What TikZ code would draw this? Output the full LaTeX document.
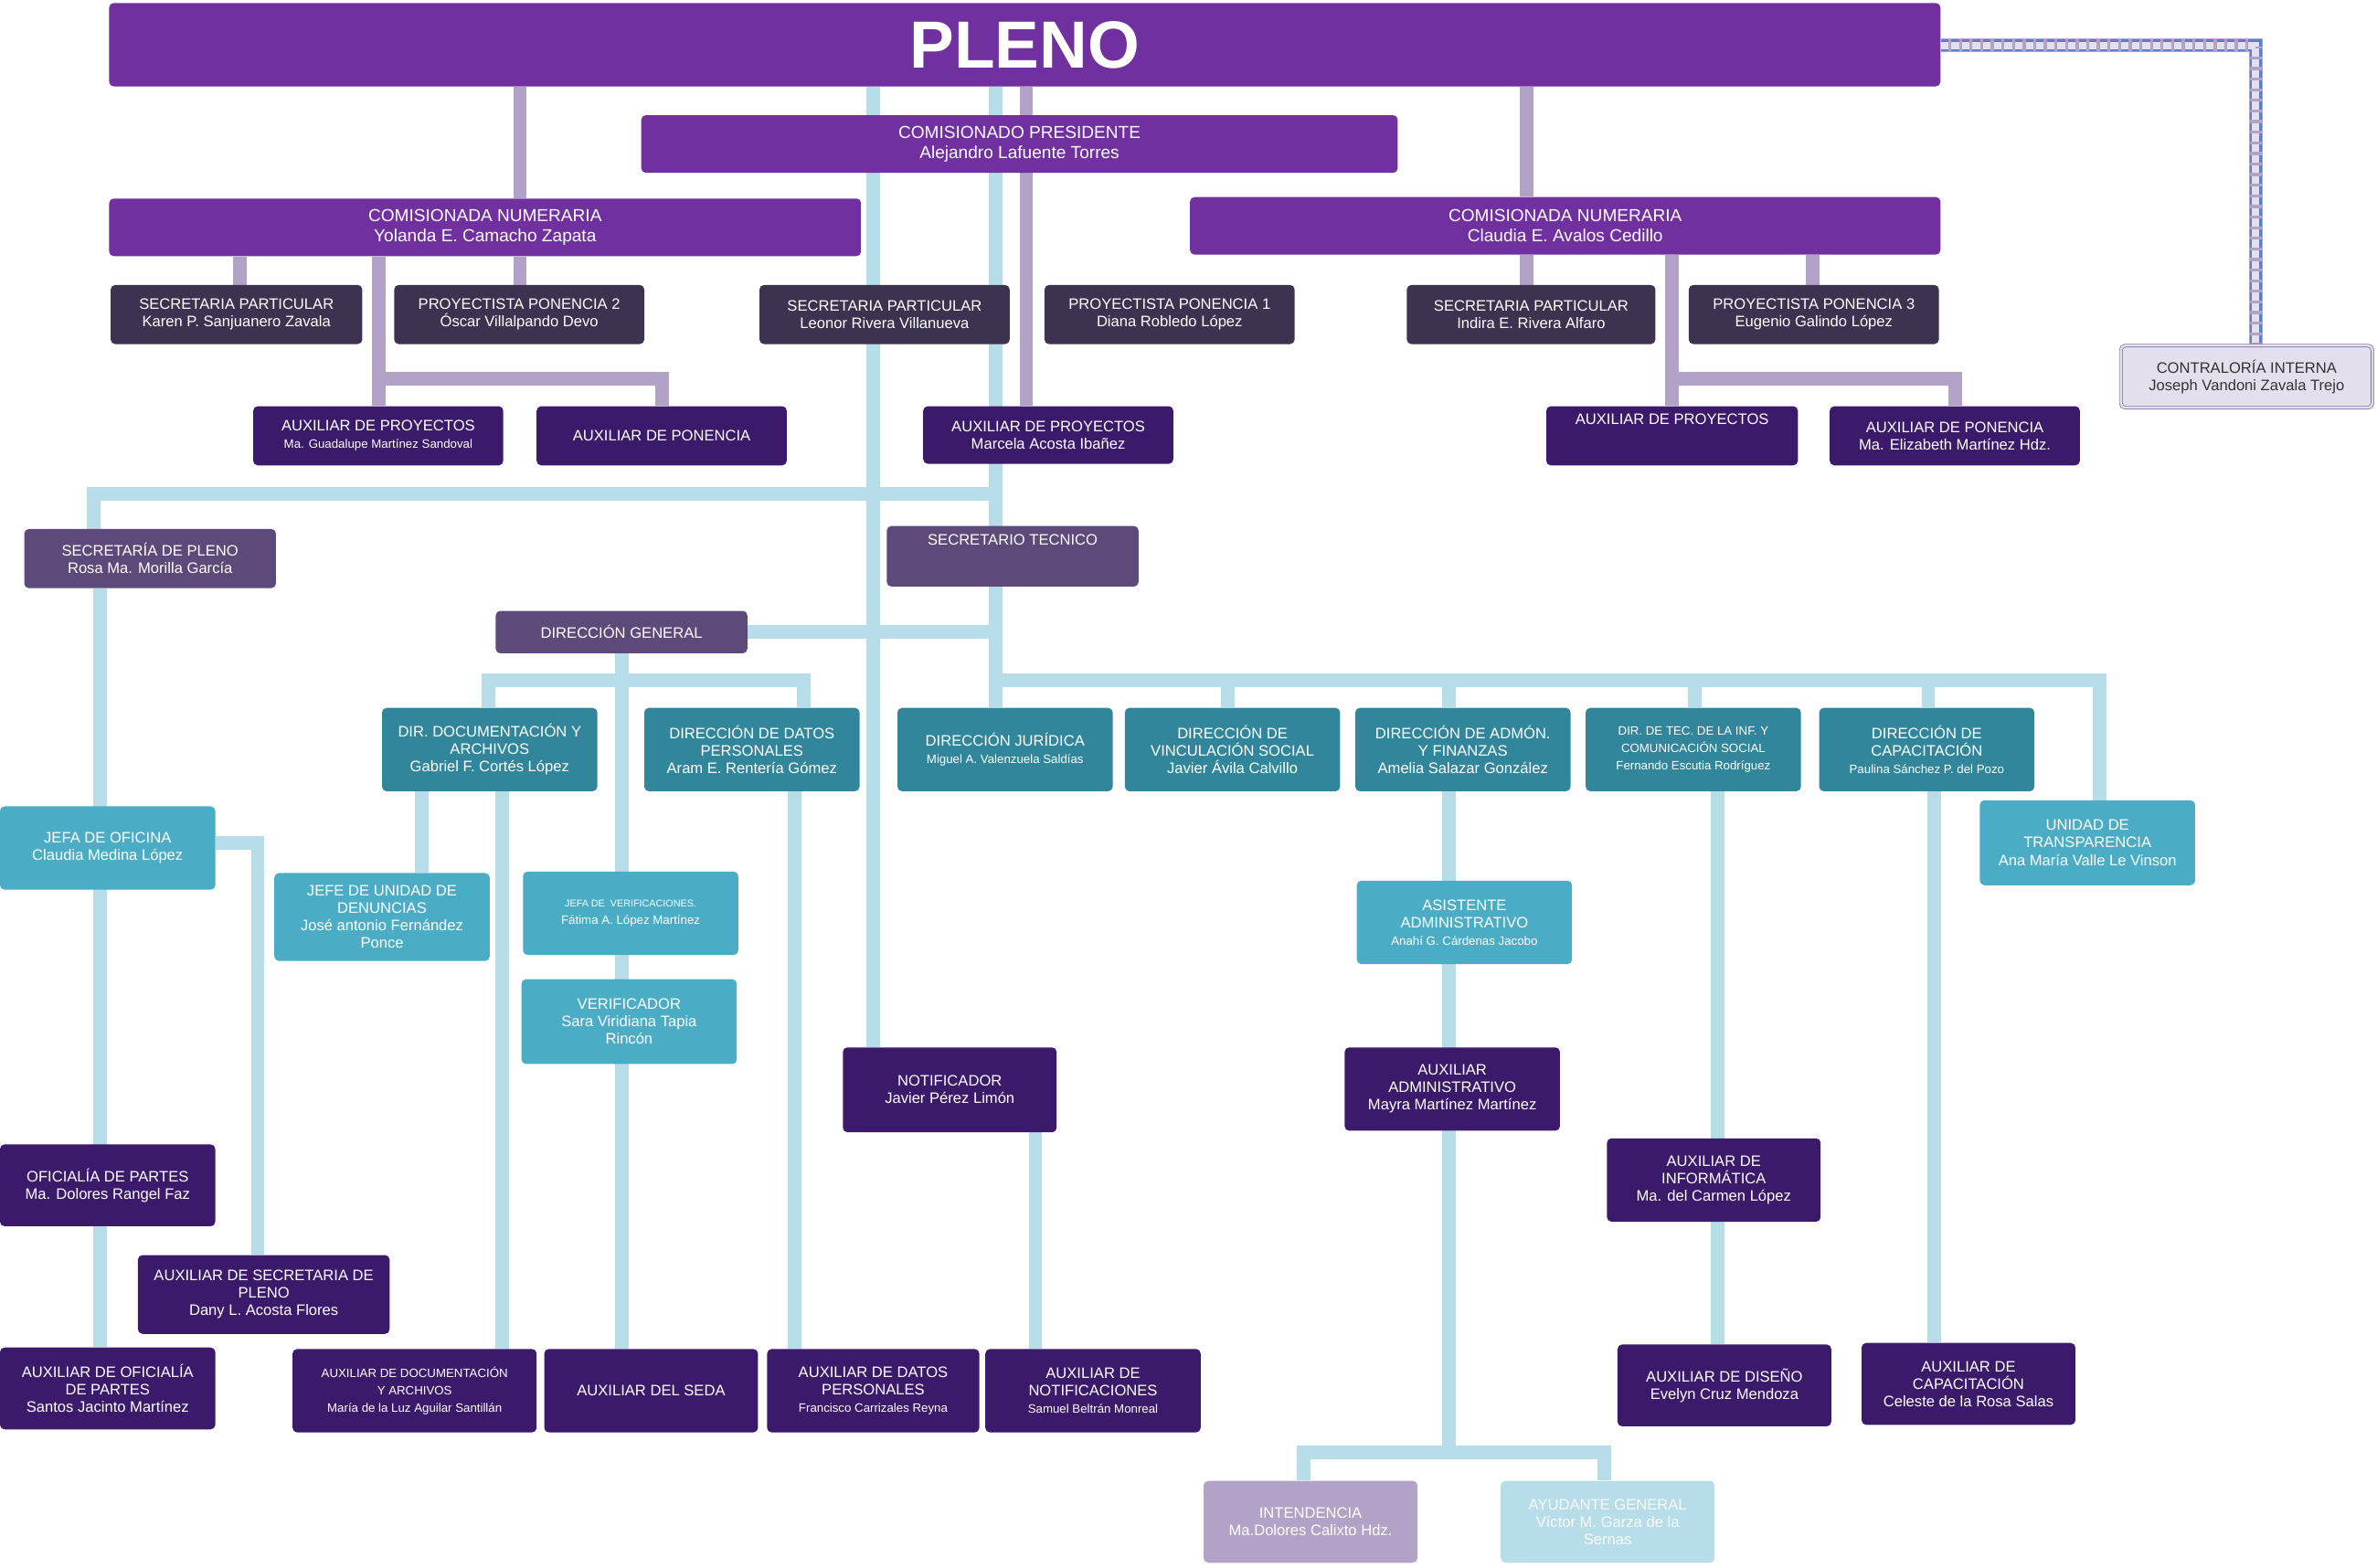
\documentclass[tikz,border=0pt]{standalone}
\usepackage{fontspec}
\setmainfont{Liberation Sans}
\usetikzlibrary{backgrounds}
\definecolor{pleno}{HTML}{7030A0}
\definecolor{dpur}{HTML}{3C1A6B}
\definecolor{gpur}{HTML}{3D3350}
\definecolor{mpur}{HTML}{5E4A7A}
\definecolor{teal1}{HTML}{31869B}
\definecolor{teal2}{HTML}{4BACC6}
\definecolor{lblue}{HTML}{B7DEE8}
\definecolor{lpur}{HTML}{B3A2C7}
\definecolor{lav}{HTML}{E4DFEC}
\definecolor{dash}{HTML}{5B7FC8}
\tikzset{
  spot/.style args={#1/#2/#3/#4}{minimum width={(#3-#1)*1pt}, minimum height={(#4-#2)*1pt},
    at={({(#1+#3)/2},{(#2+#4)/2})}},
  box/.style={rounded corners=3pt, inner sep=0pt, text=white, align=center,
    font=\fontsize{10}{11.5}\selectfont},
  top/.style={box, fill=pleno},
  gp/.style={box, fill=gpur},
  dp/.style={box, fill=dpur},
  mp/.style={box, fill=mpur},
  tl/.style={box, fill=teal1},
  tk/.style={box, fill=teal2},
  lb/.style={draw=lblue, line width=9pt},
  lp/.style={draw=lpur, line width=9pt},
}
\newcommand\sm[1]{{\fontsize{8}{9}\selectfont #1}}
\begin{document}
\begin{tikzpicture}[x=1pt,y=-1pt]
\useasboundingbox (0,0) rectangle (1568,1034);
% cabeza
\node[top, spot=72/2/1280/57, font=\fontsize{44}{44}\selectfont\bfseries] (pleno) {PLENO};
\node[top, spot=423/76/922/114, font=\fontsize{11.5}{13}\selectfont] (pres) {COMISIONADO PRESIDENTE\\Alejandro Lafuente Torres};
\node[top, spot=72/131/568/169, font=\fontsize{11.5}{13}\selectfont] (cn1) {COMISIONADA NUMERARIA\\Yolanda E. Camacho Zapata};
\node[top, spot=785/130/1280/168, font=\fontsize{11.5}{13}\selectfont] (cn2) {COMISIONADA NUMERARIA\\Claudia E. Avalos Cedillo};
% ponencias
\node[gp, spot=73/188/239/227] (sp1) {SECRETARIA PARTICULAR\\Karen P. Sanjuanero Zavala};
\node[gp, spot=260/188/425/227] (pp2) {PROYECTISTA PONENCIA 2\\Óscar Villalpando Devo};
\node[gp, spot=501/188/666/227] (spP) {SECRETARIA PARTICULAR\\Leonor Rivera Villanueva};
\node[gp, spot=689/188/854/227] (pp1) {PROYECTISTA PONENCIA 1\\Diana Robledo López};
\node[gp, spot=928/188/1092/227] (sp2) {SECRETARIA PARTICULAR\\Indira E. Rivera Alfaro};
\node[gp, spot=1114/188/1279/227] (pp3) {PROYECTISTA PONENCIA 3\\Eugenio Galindo López};
\node[dp, spot=167/268/332/307] (ap1) {AUXILIAR DE PROYECTOS\\\sm{Ma. Guadalupe Martínez Sandoval}};
\node[dp, spot=354/268/519/307] (apon1) {AUXILIAR DE PONENCIA};
\node[dp, spot=609/268/774/306] (apP) {AUXILIAR DE PROYECTOS\\Marcela Acosta Ibañez};
\node[dp, spot=1020/268/1186/307] (ap3) {AUXILIAR DE PROYECTOS\\[10pt]};
\node[dp, spot=1207/268/1372/307] (apon3) {AUXILIAR DE PONENCIA\\Ma. Elizabeth Martínez Hdz.};
\node[box, fill=lav, text=black!80, draw=dpur!70, double=lav, double distance=1.5pt, spot=1399/228/1565/269] (contr) {CONTRALORÍA INTERNA\\Joseph Vandoni Zavala Trejo};
% staff
\node[mp, spot=16/349/182/388] (secpleno) {SECRETARÍA DE PLENO\\Rosa Ma. Morilla García};
\node[mp, spot=585/347/751/387] (sectec) {SECRETARIO TECNICO\\[10pt]};
\node[mp, spot=327/403/493/431] (dg) {DIRECCIÓN GENERAL};
% direcciones
\node[tl, spot=252/467/394/522] (dda) {DIR. DOCUMENTACIÓN Y\\ARCHIVOS\\Gabriel F. Cortés López};
\node[tl, spot=425/467/567/522] (ddp) {DIRECCIÓN DE DATOS\\PERSONALES\\Aram E. Rentería Gómez};
\node[tl, spot=592/467/734/522] (dj) {DIRECCIÓN JURÍDICA\\\sm{Miguel A. Valenzuela Saldías}};
\node[tl, spot=742/467/884/522] (dvs) {DIRECCIÓN DE\\VINCULACIÓN SOCIAL\\Javier Ávila Calvillo};
\node[tl, spot=894/467/1036/522] (daf) {DIRECCIÓN DE ADMÓN.\\Y FINANZAS\\Amelia Salazar González};
\node[tl, spot=1046/467/1188/522] (dtic) {\sm{DIR. DE TEC. DE LA INF. Y}\\\sm{COMUNICACIÓN SOCIAL}\\\sm{Fernando Escutia Rodríguez}};
\node[tl, spot=1200/467/1342/522] (dcap) {DIRECCIÓN DE\\CAPACITACIÓN\\\sm{Paulina Sánchez P. del Pozo}};
\node[tk, spot=1306/528/1448/584] (ut) {UNIDAD DE\\TRANSPARENCIA\\Ana María Valle Le Vinson};
% jefaturas
\node[tk, spot=0/532/142/587] (jo) {JEFA DE OFICINA\\Claudia Medina López};
\node[tk, spot=181/576/323/634] (jud) {JEFE DE UNIDAD DE\\DENUNCIAS\\José antonio Fernández\\Ponce};
\node[tk, spot=345/575/487/630] (jv) {{\fontsize{6.5}{8}\selectfont JEFA DE\ \ VERIFICACIONES.}\\\sm{Fátima A. López Martínez}};
\node[tk, spot=344/646/486/702] (ver) {VERIFICADOR\\Sara Viridiana Tapia\\Rincón};
\node[tk, spot=895/581/1037/636] (asis) {ASISTENTE\\ADMINISTRATIVO\\\sm{Anahí G. Cárdenas Jacobo}};
% auxiliares
\node[dp, spot=556/691/697/747] (not) {NOTIFICADOR\\Javier Pérez Limón};
\node[dp, spot=887/691/1029/746] (auxadm) {AUXILIAR\\ADMINISTRATIVO\\Mayra Martínez Martínez};
\node[dp, spot=0/755/142/809] (op) {OFICIALÍA DE PARTES\\Ma. Dolores Rangel Faz};
\node[dp, spot=1060/751/1201/806] (auxinf) {AUXILIAR DE\\INFORMÁTICA\\Ma. del Carmen López};
\node[dp, spot=91/828/257/880] (asp) {AUXILIAR DE SECRETARIA DE\\PLENO\\Dany L. Acosta Flores};
\node[dp, spot=0/889/142/943] (aop) {AUXILIAR DE OFICIALÍA\\DE PARTES\\Santos Jacinto Martínez};
\node[dp, spot=193/890/354/945] (ada) {\sm{AUXILIAR DE DOCUMENTACIÓN}\\\sm{Y ARCHIVOS}\\\sm{María de la Luz Aguilar Santillán}};
\node[dp, spot=359/890/500/945] (aseda) {AUXILIAR DEL SEDA};
\node[dp, spot=506/890/646/945] (adp) {AUXILIAR DE DATOS\\PERSONALES\\\sm{Francisco Carrizales Reyna}};
\node[dp, spot=650/890/792/945] (anot) {AUXILIAR DE\\NOTIFICACIONES\\\sm{Samuel Beltrán Monreal}};
\node[dp, spot=1067/887/1208/941] (adis) {AUXILIAR DE DISEÑO\\Evelyn Cruz Mendoza};
\node[dp, spot=1228/886/1369/940] (acap) {AUXILIAR DE\\CAPACITACIÓN\\Celeste de la Rosa Salas};
\node[box, fill=lpur, spot=794/977/935/1031] (int) {INTENDENCIA\\Ma.Dolores Calixto Hdz.};
\node[box, fill=lblue, text=white!95!gray, spot=990/977/1131/1031] (ayu) {AYUDANTE GENERAL\\Víctor M. Garza de la\\Sernas};
\begin{scope}[on background layer]
% lineas de ponencias
\draw[lp] (pleno.south -| 343,0) -- (cn1.north -| 343,0);
\draw[lp] (pleno.south -| 1007,0) -- (cn2.north -| 1007,0);
\draw[lp] (pleno.south -| 677,0) -- (apP.north -| 677,0);
\draw[lp] (cn1.south -| 158,0) -- (sp1.north -| 158,0);
\draw[lp] (cn1.south -| 343,0) -- (pp2.north -| 343,0);
\draw[lp] (cn1.south -| 250,0) -- (ap1.north -| 250,0);
\draw[lp] (250,250) -| (apon1.north);
\draw[lp] (cn2.south -| 1007,0) -- (sp2.north -| 1007,0);
\draw[lp] (cn2.south -| 1196,0) -- (pp3.north -| 1196,0);
\draw[lp] (cn2.south -| 1103,0) -- (ap3.north -| 1103,0);
\draw[lp] (1103,250) -| (apon3.north);
\draw[draw=lpur, line width=9pt] (pleno.east |- 0,30) -| (contr.north -| 1488,0);
\draw[draw=dash, line width=1.5pt, dash pattern=on 5pt off 2pt, double=lav, double distance=5pt] (pleno.east |- 0,30) -| (contr.north -| 1488,0);
% lineas tecnicas
\draw[lb] (pleno.south -| 576,0) -- (not.north -| 576,0);
\draw[lb] (pleno.south -| 657,0) -- (dj.north -| 657,0);
\draw[lb] (657,326) -| (secpleno.north -| 62,0);
\draw[lb] (secpleno.south -| 66,0) -- (aop.north -| 66,0);
\draw[lb] (jo.east |- 0,556) -| (asp.north -| 170,0);
\draw[lb] (657,417) -- (dg.east |- 0,417);
\draw[lb] (dg.south -| 410,0) -- (aseda.north -| 410,0);
\draw[lb] (dda.north -| 322,0) |- (530,449) -- (ddp.north -| 530,0);
\draw[lb] (dda.south -| 278,0) -- (jud.north -| 278,0);
\draw[lb] (dda.south -| 331,0) -- (ada.north -| 331,0);
\draw[lb] (ddp.south -| 524,0) -- (adp.north -| 524,0);
\draw[lb] (not.south -| 683,0) -- (anot.north -| 683,0);
\draw[lb] (657,449) -| (ut.north -| 1385,0);
\foreach \xx/\nn in {810/dvs, 956/daf, 1118/dtic, 1272/dcap}
  \draw[lb] (\xx,449) -- (\nn.north -| \xx,0);
\draw[lb] (daf.south -| 956,0) -- (956,958);
\draw[lb] (int.north -| 860,0) |- (1058,958) -- (ayu.north -| 1058,0);
\draw[lb] (dtic.south -| 1133,0) -- (adis.north -| 1133,0);
\draw[lb] (dcap.south -| 1276,0) -- (acap.north -| 1276,0);
\end{scope}
\end{tikzpicture}
\end{document}
